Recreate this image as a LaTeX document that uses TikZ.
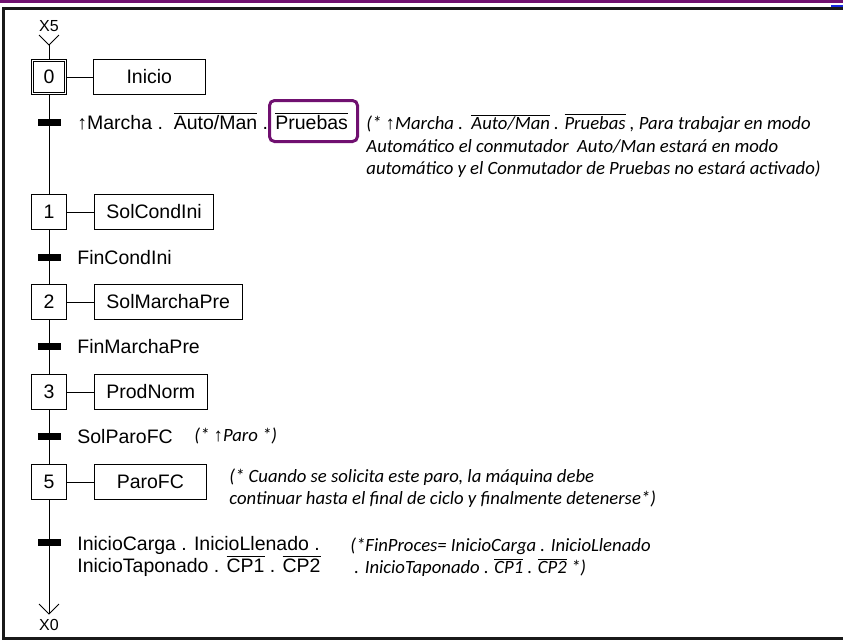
\documentclass[tikz,border=0pt]{standalone}
\usepackage{fontspec}
\setmainfont{Liberation Sans}
\newfontfamily\notafont{Carlito}
\newfontfamily\flechafont{Liberation Sans}
\usetikzlibrary{positioning}
\definecolor{morado}{RGB}{112,16,112}
\definecolor{azul}{RGB}{20,40,225}
\newcommand{\negado}[1]{\leavevmode\vbox{\hrule height 0.9pt\kern 1.4pt\hbox{#1}}}
\newcommand{\flecha}{{\flechafont\upshape ↑}}

\begin{document}
\begin{tikzpicture}[x=1pt,y=-1pt,line width=0.9pt,
		every node/.append style={font=\fontsize{19.5}{22}\selectfont},
		etapa/.style={draw,minimum size=35pt,inner sep=0pt},
		inicial/.style={etapa,double,double distance=1.6pt,line width=0.7pt,minimum size=33pt},
		accion/.style={draw,minimum width=112pt,minimum height=35pt,inner xsep=12pt},
		trans/.style={fill=black,minimum width=23pt,minimum height=7pt,inner sep=0pt},
		recep/.style={anchor=base west,inner sep=0pt,align=left},
		nota/.style={anchor=west,inner sep=0pt,align=left,font=\notafont\itshape\fontsize{18.7}{22.5}\selectfont},
		etiq/.style={inner sep=0pt,font=\fontsize{16}{18}\selectfont}]
	\useasboundingbox (0,0) rectangle (843,641);
	\fill[morado] (0,0) rectangle (843,2.5);
	\fill[azul] (831,4.5) rectangle (843,8);
	\draw[line width=2.2pt,black!90] (3.5,8.5) rectangle (870,638.5);
	
	\node[etiq] (x5) at (49,26.5) {X5};
	\coordinate (v5) at (49,45);
	\node[inicial] (e0) at (49,77) {0};
	\node[accion,right=27pt of e0] (a0) {Inicio};
	\node[etapa] (e1) at (49,212) {1};
	\node[accion,right=27pt of e1] (a1) {SolCondIni};
	\node[etapa] (e2) at (49,302) {2};
	\node[accion,right=27pt of e2] (a2) {SolMarchaPre};
	\node[etapa] (e3) at (49,392) {3};
	\node[accion,right=27pt of e3] (a3) {ProdNorm};
	\node[etapa] (e5) at (49,482) {5};
	\node[accion,right=27pt of e5] (a5) {ParoFC};
	\coordinate (v0) at (49,614);
	\node[etiq] (x0) at (49,625) {X0};
	
	\draw ([shift={(-10,-10)}]v5) -- (v5) -- ([shift={(10,-10)}]v5);
	\draw (v5) -- (e0);
	\draw (e0) -- (e1);
	\draw (e1) -- (e2);
	\draw (e2) -- (e3);
	\draw (e3) -- (e5);
	\draw (e5) -- (v0);
	\draw ([shift={(-10,-10)}]v0) -- (v0) -- ([shift={(10,-10)}]v0);
	\foreach \e in {0,1,2,3,5}
		\draw (e\e) -- (a\e);
	
	\node[trans] (t0) at (49,122) {};
	\node[trans] (t1) at (49,257) {};
	\node[trans] (t2) at (49,346) {};
	\node[trans] (t3) at (49,436) {};
	\node[trans] (t5) at (49,542) {};
	
	\node[recep] (r0) at ([xshift=16pt,yshift=-7pt]t0.east) {\flecha Marcha .\ \ \negado{Auto/Man} . \negado{Pruebas}};
	\node[recep] (r1) at ([xshift=16pt,yshift=-7pt]t1.east) {FinCondIni};
	\node[recep] (r2) at ([xshift=16pt,yshift=-7pt]t2.east) {FinMarchaPre};
	\node[recep] (r3) at ([xshift=16pt,yshift=-7pt]t3.east) {SolParoFC};
	\node[recep] (r5) at ([xshift=16pt,yshift=-30pt]t5.east) {InicioCarga . InicioLlenado .\\InicioTaponado . \negado{CP1} . \negado{CP2}};
	
	\node[draw=morado,line width=3pt,rounded corners=5pt,minimum width=88pt,minimum height=41pt] (marco) at (313.5,121) {};
	
	\node[nota] (n0) at (366,146) {(* \flecha Marcha .\ \ \negado{Auto/Man} . \negado{Pruebas} , Para trabajar en modo\\Automático el conmutador\ \ Auto/Man estará en modo\\automático y el Conmutador de Pruebas no estará activado)};
	\node[nota] (n3) at (194,436) {(* \flecha Paro *)};
	\node[nota] (n5) at (229,488) {(* Cuando se solicita este paro, la máquina debe\\continuar hasta el final de ciclo y finalmente detenerse*)};
	\node[nota] (n6) at (350,557) {(*FinProces= InicioCarga . InicioLlenado\\\hspace{4pt}. InicioTaponado . \negado{CP1} . \negado{CP2} *)};
\end{tikzpicture}
\end{document}
